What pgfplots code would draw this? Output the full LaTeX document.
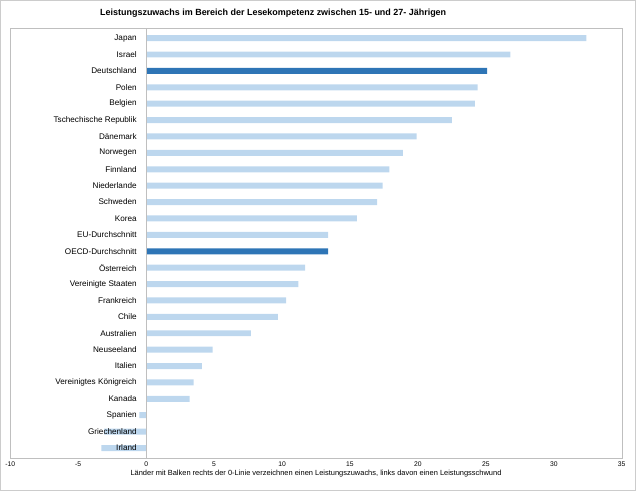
\documentclass[border=0pt]{standalone}
\usepackage{pgfplots}
\pgfplotsset{compat=1.18}
\usepackage{fontspec}
\setmainfont{Liberation Sans}
\definecolor{lb}{HTML}{BDD7EE}
\definecolor{db}{HTML}{2E75B6}
\begin{document}
\begin{tikzpicture}[x=1bp,y=1bp]
\draw[gray!40, line width=0.6bp] (0,0) rectangle (636,490);
\begin{axis}[
  at={(10bp,32bp)}, anchor=south west,
  width=612bp, height=430bp, scale only axis,
  axis on top,
  xbar, bar width=6bp, bar shift=0pt,
  xmin=-10, xmax=35, xtick={-10,-5,...,35},
  ymin=-0.6, ymax=25.6, y dir=reverse,
  ytick={0,...,25},
  yticklabels={Japan,Israel,Deutschland,Polen,Belgien,Tschechische Republik,Dänemark,Norwegen,Finnland,Niederlande,Schweden,Korea,EU-Durchschnitt,OECD-Durchschnitt,Österreich,Vereinigte Staaten,Frankreich,Chile,Australien,Neuseeland,Italien,Vereinigtes Königreich,Kanada,Spanien,Griechenland,Irland},
  yticklabel style={font=\fontsize{8.2}{9}\selectfont, anchor=east, xshift=130bp},
  xticklabel style={font=\fontsize{6.8}{8}\selectfont},
  /pgf/number format/assume math mode=true,
  major tick length=0pt,
  axis line style={gray!50},
  title={\bfseries Leistungszuwachs im Bereich der Lesekompetenz zwischen 15- und 27- Jährigen},
  title style={font=\fontsize{9}{10}\selectfont, at={(0.43,1)}, yshift=1bp},
  xlabel={Länder mit Balken rechts der 0-Linie verzeichnen einen Leistungszuwachs, links davon einen Leistungsschwund},
  xlabel style={font=\fontsize{7.5}{8}\selectfont, yshift=3bp},
]
\addplot[fill=lb, draw=none] coordinates {
(32.4,0) (26.8,1) (24.4,3) (24.2,4) (22.5,5) (19.9,6) (18.9,7) (17.9,8) (17.4,9) (17.0,10) (15.5,11) (13.4,12)
(11.7,14) (11.2,15) (10.3,16) (9.7,17) (7.7,18) (4.9,19) (4.1,20) (3.5,21) (3.2,22) (-0.5,23) (-3.1,24) (-3.3,25)};
\addplot[fill=db, draw=none] coordinates {(25.1,2) (13.4,13)};
\draw[gray!50] (axis cs:0,-0.6) -- (axis cs:0,25.6);
\end{axis}
\end{tikzpicture}
\end{document}
